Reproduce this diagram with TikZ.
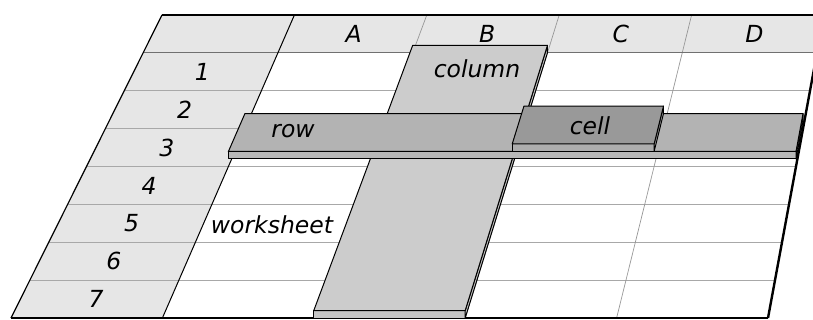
\documentclass[tikz,border=0pt]{standalone}
\usepackage{fontspec}
\setsansfont{DejaVu Sans}
\usetikzlibrary{calc}
\definecolor{shead}{HTML}{E6E6E6}
\definecolor{sgrid}{HTML}{A8A8A8}
\definecolor{shline}{HTML}{707070}
\definecolor{coltop}{HTML}{CCCCCC}
\definecolor{colfront}{HTML}{C4C4C4}
\definecolor{rowtop}{HTML}{B3B3B3}
\definecolor{rowfront}{HTML}{B8B8B8}
\definecolor{celltop}{HTML}{999999}
\definecolor{cellfront}{HTML}{ADADAD}

\begin{document}
\begin{tikzpicture}[
  x=0.5pt, y=-0.5pt,
  font=\sffamily\itshape\fontsize{11.75}{14}\selectfont,
  hgrid/.style={draw=sgrid, line width=0.5pt},
  vgrid/.style={draw=sgrid!90!black, line width=0.35pt},
  rim/.style={draw=black, line width=1.2pt},
  slab/.style={draw=black, line width=0.5pt, line join=round},
  lbl/.style={inner sep=0pt},
]
\clip (0,0) rectangle (813,320);
\def\h{7.5}

% ---------------- the sheet ----------------
\foreach \i in {0,...,5}{
  \coordinate (t\i) at (162+132.4*\i, 15);
  \coordinate (b\i) at (11+151.4*\i, 318);
  \foreach \j in {0,...,8}
    \coordinate (g-\i-\j) at ($(t\i)!\j/8!(b\i)$);
}
\fill[shead] (g-0-0) -- (g-1-0) -- (g-1-8) -- (g-0-8) -- cycle;
\fill[shead] (g-1-0) -- (g-5-0) -- (g-5-1) -- (g-1-1) -- cycle;
\foreach \j in {2,...,7} \draw[hgrid] (g-0-\j) -- (g-5-\j);
\foreach \i in {2,3,4} \draw[vgrid] (g-\i-0) -- (g-\i-8);
\draw[shline, line width=0.6pt] (g-0-1) -- (g-5-1);
\draw[black, line width=0.5pt] (g-1-0) -- (g-1-8);
\draw[black, line width=0.6pt] (g-0-0) -- (g-0-8);
\draw[rim] (g-0-0) -- (g-5-0);
\draw[rim] (g-0-8) -- (g-5-8);
\draw[rim] (g-5-0) -- (g-5-8);

% headers
\foreach \c [count=\i] in {A,B,C,D}{
  \pgfmathtruncatemacro\n{\i+1}
  \node[lbl] (col-\c) at ($(g-\i-0)!0.5!(g-\n-1)$) {\c};
}
\foreach \r in {1,...,7}{
  \pgfmathtruncatemacro\n{\r+1}
  \node[lbl] (row-\r) at ($(g-0-\r)!0.5!(g-1-\n)$) {\r};
}
\node[lbl] (sheet) at (272,224.5) {worksheet};

% ---------------- column B: one step up ----------------
\filldraw[slab, fill=colfront] (g-2-8) -- (g-3-8) -- ($(g-3-8)+(0,-\h)$) -- ($(g-2-8)+(0,-\h)$) -- cycle;
\filldraw[slab, fill=colfront] (g-3-1) -- (g-3-8) -- ($(g-3-8)+(0,-\h)$) -- ($(g-3-1)+(0,-\h)$) -- cycle;
\filldraw[slab, fill=coltop] ($(g-2-1)+(0,-\h)$) -- ($(g-3-1)+(0,-\h)$) -- ($(g-3-8)+(0,-\h)$) -- ($(g-2-8)+(0,-\h)$) -- cycle;
\node[lbl] (column) at (477,69) {column};

% ---------------- row 3: on top of the column ----------------
\filldraw[slab, fill=rowfront] ($(g-1-4)+(0,-\h)$) -- ($(g-5-4)+(0,-\h)$) -- ($(g-5-4)+(0,-2*\h)$) -- ($(g-1-4)+(0,-2*\h)$) -- cycle;
\filldraw[slab, fill=rowfront] ($(g-5-3)+(0,-\h)$) -- ($(g-5-4)+(0,-\h)$) -- ($(g-5-4)+(0,-2*\h)$) -- ($(g-5-3)+(0,-2*\h)$) -- cycle;
\filldraw[slab, fill=rowtop] ($(g-1-3)+(0,-2*\h)$) -- ($(g-5-3)+(0,-2*\h)$) -- ($(g-5-4)+(0,-2*\h)$) -- ($(g-1-4)+(0,-2*\h)$) -- cycle;
\node[lbl] (row) at (293,131.5) {row};

% ---------------- cell C3: on top of the row ----------------
\filldraw[slab, fill=cellfront] ($(g-3-4)+(0,-2*\h)$) -- ($(g-4-4)+(0,-2*\h)$) -- ($(g-4-4)+(0,-3*\h)$) -- ($(g-3-4)+(0,-3*\h)$) -- cycle;
\filldraw[slab, fill=cellfront] ($(g-4-3)+(0,-2*\h)$) -- ($(g-4-4)+(0,-2*\h)$) -- ($(g-4-4)+(0,-3*\h)$) -- ($(g-4-3)+(0,-3*\h)$) -- cycle;
\filldraw[slab, fill=celltop] ($(g-3-3)+(0,-3*\h)$) -- ($(g-4-3)+(0,-3*\h)$) -- ($(g-4-4)+(0,-3*\h)$) -- ($(g-3-4)+(0,-3*\h)$) -- cycle;
\node[lbl] (cell) at (590,126) {cell};

\end{tikzpicture}
\end{document}
